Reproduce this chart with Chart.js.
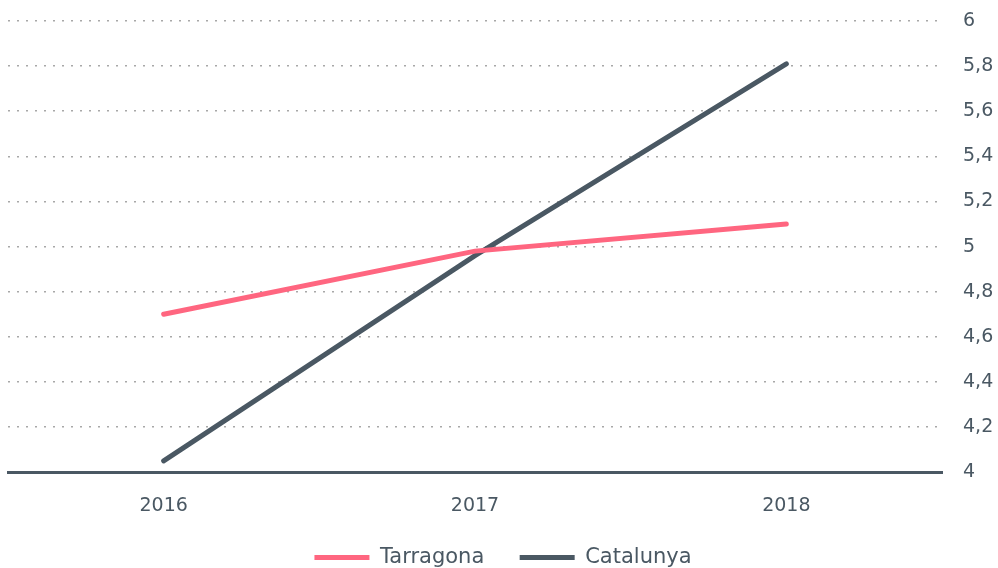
<!DOCTYPE html>
<html>
<head>
<meta charset="utf-8">
<script src="https://cdn.jsdelivr.net/npm/chart.js@4.4.1/dist/chart.umd.min.js"></script>
<style>
  html, body { margin: 0; padding: 0; background: #fff; }
  #wrap { width: 998px; height: 568px; }
</style>
</head>
<body>
<div id="wrap"><canvas id="canvas"></canvas></div>
<script>
// years on the x axis
var years = ['2016', '2017', '2018'];
var tarragona = [4.70, 4.98, 5.10];
var catalunya = [4.05, 4.96, 5.81];

var pink = '#ff6680';
var slate = '#4a5863';

Chart.defaults.font.family = '"DejaVu Sans", sans-serif';
Chart.defaults.color = slate;

// pull the legend a bit lower, closer to the bottom edge
var legendShift = {
    id: 'legendShift',
    afterInit: function (chart) {
        var lg = chart.legend;
        if (!lg) return;
        var fit = lg.fit;
        lg.fit = function () {
            fit.call(this);
            this.height -= 10;
        };
    }
};

var ctx = document.getElementById('canvas').getContext('2d');
var myChart = new Chart(ctx, {
    type: 'line',
    data: {
        labels: years,
        datasets: [{
            label: 'Tarragona',
            data: tarragona,
            borderColor: pink,
            backgroundColor: pink,
            borderWidth: 5,
            borderCapStyle: 'round',
            pointRadius: 0,
            pointStyle: 'line',
            tension: 0
        }, {
            label: 'Catalunya',
            data: catalunya,
            borderColor: slate,
            backgroundColor: slate,
            borderWidth: 5,
            borderCapStyle: 'round',
            pointRadius: 0,
            pointStyle: 'line',
            tension: 0
        }]
    },
    plugins: [legendShift],
    options: {
        responsive: true,
        maintainAspectRatio: false,
        animation: false,
        layout: { padding: { left: 8, top: 0, right: 0, bottom: 0 } },
        plugins: {
            tooltip: { enabled: false },
            legend: {
                position: 'bottom',
                labels: {
                    usePointStyle: true,
                    pointStyleWidth: 55,
                    boxHeight: 21,
                    padding: 2,
                    font: { size: 21 },
                    color: slate,
                    // trailing spaces give the gap between the two items
                    generateLabels: function (chart) {
                        var items = Chart.defaults.plugins.legend.labels.generateLabels(chart);
                        items.forEach(function (it, i) {
                            if (i < items.length - 1) it.text = it.text + '     ';
                        });
                        return items;
                    }
                }
            }
        },
        scales: {
            x: {
                offset: true,
                grid: { display: false },
                border: { display: true, color: slate, width: 3 },
                ticks: { font: { size: 19 }, color: slate, padding: 14 },
                afterFit: function (s) { s.height += 14; }
            },
            y: {
                position: 'right',
                min: 4,
                max: 6,
                border: { display: false, dash: [2, 7] },
                grid: {
                    drawTicks: false,
                    lineWidth: 1.5,
                    color: function (c) {
                        return c.tick && c.tick.value === 4 ? 'rgba(0,0,0,0)' : '#a8a8a8';
                    }
                },
                ticks: {
                    stepSize: 0.2,
                    padding: 21,
                    font: { size: 19 },
                    color: slate,
                    callback: function (v) {
                        return (Math.round(v * 10) / 10).toString().replace('.', ',');
                    }
                },
                afterFit: function (s) {
                    s.width = 56;
                    s.paddingTop = 21;
                    s.paddingBottom = 0;
                }
            }
        }
    }
});
</script>
</body>
</html>
